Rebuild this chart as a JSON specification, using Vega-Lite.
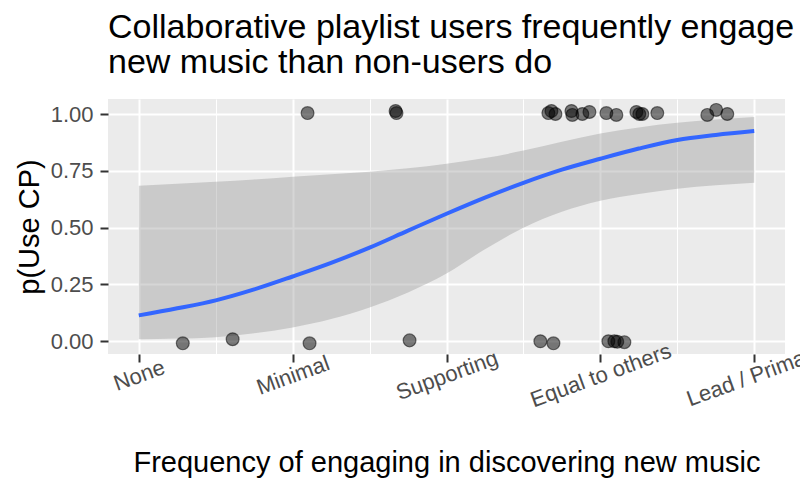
{
  "$schema": "https://vega.github.io/schema/vega-lite/v6.json",
  "autosize": "none",
  "width": 677,
  "height": 255,
  "padding": {"left": 108, "top": 99, "right": 15, "bottom": 140},
  "background": "white",
  "config": {
    "font": "Liberation Sans",
    "view": {"fill": "#EBEBEB", "stroke": null},
    "axis": {
      "labelColor": "#4D4D4D",
      "labelFontSize": 22,
      "titleFontSize": 29,
      "titleFontWeight": "normal",
      "titleColor": "black",
      "tickColor": "#333333",
      "tickWidth": 2,
      "tickSize": 8,
      "domain": false,
      "gridColor": "white"
    }
  },
  "title": {
    "text": ["Collaborative playlist users frequently engage more in discovering", "new music than non-users do"],
    "anchor": "start",
    "frame": "group",
    "fontSize": 34,
    "fontWeight": "normal",
    "color": "black",
    "lineHeight": 35,
    "offset": 19
  },
  "datasets": {
    "fit": [
      {"x": 1.0, "fit": 0.114, "lower": 0.009, "upper": 0.684},
      {"x": 1.25, "fit": 0.145, "lower": 0.012, "upper": 0.693},
      {"x": 1.5, "fit": 0.180, "lower": 0.018, "upper": 0.702},
      {"x": 1.75, "fit": 0.228, "lower": 0.035, "upper": 0.712},
      {"x": 2.0, "fit": 0.285, "lower": 0.061, "upper": 0.724},
      {"x": 2.25, "fit": 0.345, "lower": 0.098, "upper": 0.735},
      {"x": 2.5, "fit": 0.412, "lower": 0.149, "upper": 0.746},
      {"x": 2.75, "fit": 0.487, "lower": 0.215, "upper": 0.761},
      {"x": 3.0, "fit": 0.561, "lower": 0.298, "upper": 0.781},
      {"x": 3.25, "fit": 0.632, "lower": 0.405, "upper": 0.806},
      {"x": 3.5, "fit": 0.697, "lower": 0.500, "upper": 0.839},
      {"x": 3.75, "fit": 0.755, "lower": 0.570, "upper": 0.878},
      {"x": 4.0, "fit": 0.803, "lower": 0.618, "upper": 0.914},
      {"x": 4.25, "fit": 0.848, "lower": 0.648, "upper": 0.941},
      {"x": 4.5, "fit": 0.886, "lower": 0.671, "upper": 0.961},
      {"x": 4.75, "fit": 0.908, "lower": 0.686, "upper": 0.976},
      {"x": 5.0, "fit": 0.925, "lower": 0.697, "upper": 0.987}
    ],
    "pts": [
      {"x": 1.286, "y": -0.009},
      {"x": 1.610, "y": 0.009},
      {"x": 2.110, "y": -0.009},
      {"x": 2.760, "y": 0.004},
      {"x": 3.610, "y": 0.0},
      {"x": 3.695, "y": -0.009},
      {"x": 4.052, "y": 0.0},
      {"x": 4.091, "y": 0.0},
      {"x": 4.110, "y": -0.002},
      {"x": 4.156, "y": -0.004},
      {"x": 2.097, "y": 1.004},
      {"x": 2.669, "y": 1.013},
      {"x": 2.675, "y": 1.004},
      {"x": 3.662, "y": 1.004},
      {"x": 3.682, "y": 1.013},
      {"x": 3.708, "y": 1.0},
      {"x": 3.812, "y": 1.013},
      {"x": 3.818, "y": 0.996},
      {"x": 3.883, "y": 1.0},
      {"x": 3.929, "y": 1.009},
      {"x": 4.039, "y": 1.004},
      {"x": 4.104, "y": 0.996},
      {"x": 4.234, "y": 1.009},
      {"x": 4.253, "y": 1.0},
      {"x": 4.273, "y": 1.0},
      {"x": 4.370, "y": 1.004},
      {"x": 4.695, "y": 0.996},
      {"x": 4.753, "y": 1.018},
      {"x": 4.825, "y": 1.0}
    ]
  },
  "layer": [
    {
      "data": {"name": "fit"},
      "mark": {"type": "area", "color": "#999999", "opacity": 0.4, "interpolate": "monotone"},
      "encoding": {
        "x": {
          "field": "x", "type": "quantitative",
          "scale": {"domain": [0.8, 5.2], "nice": false, "zero": false},
          "axis": {
            "title": "Frequency of engaging in discovering new music",
            "values": [1, 1.5, 2, 2.5, 3, 3.5, 4, 4.5, 5],
            "labelExpr": "datum.value % 1 == 0 ? ['None','Minimal','Supporting','Equal to others','Lead / Primary'][datum.value - 1] : ''",
            "labelAngle": -20,
            "labelAlign": "center",
            "labelBaseline": "middle",
            "labelPadding": 13,
            "labelFlush": false,
            "labelOverlap": false,
            "titlePadding": 38,
            "gridWidth": {"condition": {"test": "datum.value % 1 != 0", "value": 1}, "value": 2},
            "tickOpacity": {"condition": {"test": "datum.value % 1 != 0", "value": 0}, "value": 1}
          }
        },
        "y": {
          "field": "lower", "type": "quantitative",
          "scale": {"domain": [-0.056, 1.066], "nice": false, "zero": false},
          "axis": {
            "title": "p(Use CP)",
            "values": [0, 0.125, 0.25, 0.375, 0.5, 0.625, 0.75, 0.875, 1],
            "labelExpr": "(datum.value * 4) % 1 == 0 ? format(datum.value, '.2f') : ''",
            "labelPadding": 7,
            "titlePadding": 6,
            "gridWidth": {"condition": {"test": "(datum.value * 4) % 1 != 0", "value": 1}, "value": 2},
            "tickOpacity": {"condition": {"test": "(datum.value * 4) % 1 != 0", "value": 0}, "value": 1}
          }
        },
        "y2": {"field": "upper"}
      }
    },
    {
      "data": {"name": "fit"},
      "mark": {"type": "line", "color": "#3366FF", "strokeWidth": 4, "interpolate": "monotone"},
      "encoding": {
        "x": {"field": "x", "type": "quantitative"},
        "y": {"field": "fit", "type": "quantitative"}
      }
    },
    {
      "data": {"name": "pts"},
      "mark": {"type": "circle", "size": 165, "fill": "black", "fillOpacity": 0.5, "stroke": "black", "strokeOpacity": 0.5, "strokeWidth": 1.2, "opacity": 1},
      "encoding": {
        "x": {"field": "x", "type": "quantitative"},
        "y": {"field": "y", "type": "quantitative"}
      }
    }
  ]
}
